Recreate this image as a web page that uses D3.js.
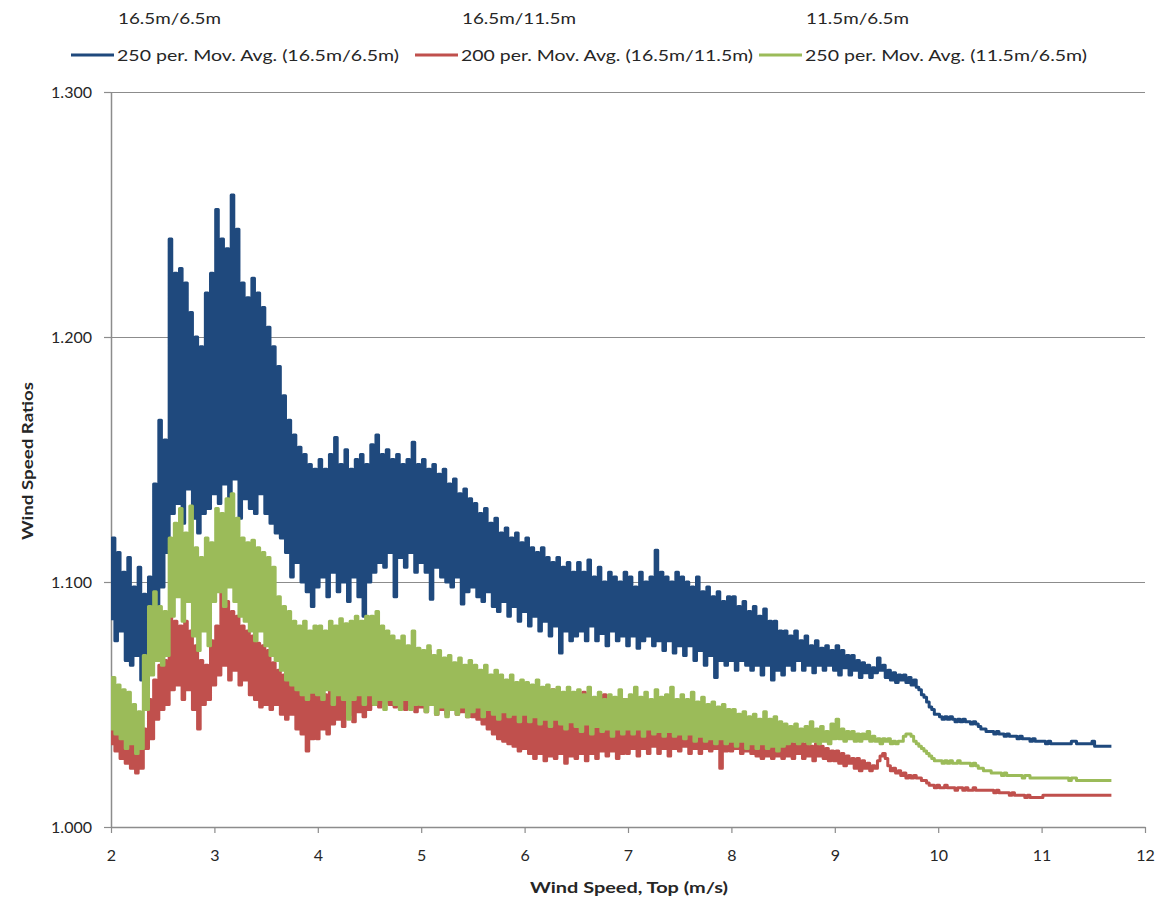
<!DOCTYPE html>
<html>
<head>
<meta charset="utf-8">
<script src="https://cdn.jsdelivr.net/npm/d3@7"></script>
<style>
  body { margin: 0; background: #fff; }
  text { font-family: Lato, "Open Sans", sans-serif; fill: #262626; }
</style>
</head>
<body>
<svg id="chart" width="1168" height="898"></svg>
<script>
// Wind speed grid (m/s): first sample and spacing of the moving averages
var speedStart = 2.0;
var speedStep = 0.025;

// 250 per. Mov. Avg. (16.5m/6.5m) - one row per 0.5 m/s
var ratio165over65 = [
  1.085,1.118,1.076,1.112,1.080,1.104,1.068,1.110,1.066,1.098,1.070,1.106,1.060,1.095,1.056,1.102,1.072,1.140,1.085,1.166,
  1.098,1.158,1.112,1.240,1.128,1.226,1.132,1.228,1.124,1.222,1.138,1.210,1.126,1.200,1.120,1.196,1.128,1.218,1.130,1.226,
  1.136,1.252,1.132,1.240,1.140,1.236,1.128,1.258,1.142,1.244,1.126,1.222,1.134,1.216,1.130,1.224,1.128,1.218,1.136,1.212,
  1.128,1.204,1.124,1.196,1.120,1.188,1.118,1.176,1.112,1.166,1.102,1.160,1.108,1.155,1.100,1.152,1.096,1.148,1.090,1.146,
  1.098,1.150,1.102,1.146,1.094,1.152,1.104,1.159,1.096,1.148,1.100,1.154,1.092,1.146,1.102,1.150,1.094,1.152,1.086,1.148,
  1.100,1.156,1.104,1.160,1.108,1.152,1.106,1.154,1.112,1.150,1.094,1.152,1.110,1.148,1.106,1.150,1.112,1.157,1.104,1.148,
  1.108,1.150,1.104,1.146,1.093,1.148,1.106,1.144,1.102,1.146,1.100,1.140,1.098,1.142,1.102,1.136,1.091,1.138,1.096,1.134,
  1.098,1.132,1.094,1.128,1.092,1.130,1.096,1.124,1.090,1.126,1.088,1.120,1.092,1.122,1.086,1.118,1.090,1.120,1.084,1.116,
  1.088,1.118,1.082,1.114,1.086,1.112,1.080,1.114,1.084,1.110,1.078,1.108,1.082,1.110,1.071,1.106,1.080,1.108,1.076,1.104,
  1.078,1.108,1.080,1.104,1.076,1.109,1.082,1.102,1.076,1.106,1.079,1.100,1.074,1.104,1.080,1.102,1.076,1.100,1.078,1.104,
  1.074,1.102,1.078,1.098,1.073,1.104,1.076,1.100,1.078,1.102,1.074,1.113,1.076,1.104,1.072,1.102,1.076,1.100,1.071,1.104,
  1.074,1.102,1.070,1.100,1.074,1.098,1.068,1.102,1.072,1.096,1.066,1.098,1.070,1.094,1.061,1.096,1.068,1.092,1.066,1.094,
  1.068,1.094,1.064,1.090,1.068,1.092,1.066,1.088,1.064,1.090,1.066,1.086,1.062,1.089,1.066,1.084,1.060,1.084,1.064,1.080,
  1.062,1.080,1.066,1.078,1.064,1.080,1.068,1.076,1.064,1.078,1.066,1.074,1.063,1.076,1.066,1.073,1.064,1.074,1.066,1.072,
  1.064,1.074,1.062,1.072,1.065,1.070,1.062,1.070,1.064,1.068,1.061,1.067,1.063,1.066,1.061,1.065,1.063,1.069,1.064,1.066,
  1.061,1.064,1.060,1.063,1.059,1.062,1.060,1.062,1.059,1.061,1.058,1.060,1.057,1.056,1.054,1.053,1.051,1.049,1.048,1.046,
  1.046,1.045,1.044,1.045,1.044,1.045,1.044,1.043,1.044,1.043,1.044,1.043,1.043,1.042,1.043,1.042,1.041,1.040,1.040,1.039,
  1.039,1.039,1.038,1.039,1.038,1.038,1.037,1.038,1.037,1.037,1.037,1.036,1.037,1.036,1.036,1.036,1.035,1.036,1.035,1.035,
  1.035,1.035,1.034,1.035,1.034,1.034,1.034,1.034,1.034,1.034,1.034,1.034,1.035,1.035,1.034,1.034,1.034,1.034,1.034,1.034,
  1.035,1.033,1.033,1.033,1.033,1.033,1.033,1.033
];

// 200 per. Mov. Avg. (16.5m/11.5m)
var ratio165over115 = [
  1.034,1.046,1.031,1.042,1.028,1.040,1.026,1.036,1.024,1.034,1.022,1.033,1.024,1.040,1.032,1.052,1.036,1.060,1.044,1.066,
  1.048,1.068,1.050,1.087,1.056,1.084,1.058,1.082,1.052,1.084,1.056,1.080,1.048,1.074,1.040,1.068,1.050,1.066,1.052,1.076,
  1.058,1.082,1.062,1.098,1.066,1.092,1.060,1.088,1.064,1.086,1.058,1.082,1.060,1.080,1.054,1.078,1.052,1.075,1.049,1.074,
  1.050,1.072,1.048,1.067,1.050,1.064,1.046,1.062,1.044,1.060,1.046,1.061,1.040,1.058,1.038,1.060,1.031,1.057,1.036,1.056,
  1.036,1.056,1.040,1.054,1.038,1.057,1.042,1.054,1.044,1.056,1.041,1.057,1.046,1.055,1.043,1.058,1.047,1.056,1.045,1.058,
  1.048,1.060,1.050,1.058,1.049,1.061,1.051,1.059,1.050,1.062,1.049,1.060,1.052,1.058,1.048,1.061,1.050,1.058,1.047,1.060,
  1.049,1.062,1.047,1.072,1.050,1.060,1.046,1.068,1.048,1.060,1.046,1.066,1.048,1.059,1.046,1.062,1.047,1.058,1.045,1.060,
  1.045,1.058,1.044,1.056,1.042,1.057,1.040,1.055,1.038,1.056,1.036,1.054,1.035,1.053,1.034,1.054,1.033,1.052,1.031,1.050,
  1.032,1.050,1.030,1.046,1.028,1.052,1.030,1.045,1.027,1.048,1.029,1.056,1.028,1.044,1.030,1.047,1.026,1.054,1.029,1.045,
  1.028,1.046,1.030,1.055,1.027,1.044,1.030,1.050,1.028,1.043,1.031,1.054,1.029,1.042,1.031,1.048,1.028,1.044,1.030,1.052,
  1.030,1.042,1.032,1.050,1.029,1.041,1.032,1.046,1.030,1.040,1.033,1.048,1.030,1.041,1.032,1.044,1.029,1.040,1.032,1.046,
  1.031,1.040,1.033,1.044,1.030,1.039,1.032,1.042,1.030,1.039,1.032,1.041,1.031,1.038,1.032,1.040,1.024,1.038,1.031,1.040,
  1.031,1.038,1.032,1.037,1.030,1.038,1.031,1.036,1.030,1.037,1.029,1.036,1.028,1.037,1.029,1.035,1.028,1.036,1.029,1.034,
  1.028,1.035,1.029,1.036,1.028,1.034,1.030,1.035,1.028,1.034,1.029,1.033,1.027,1.034,1.029,1.033,1.028,1.032,1.027,1.031,
  1.027,1.031,1.026,1.030,1.025,1.029,1.026,1.028,1.024,1.028,1.023,1.027,1.024,1.026,1.023,1.025,1.024,1.027,1.029,1.030,
  1.028,1.025,1.023,1.024,1.022,1.023,1.021,1.022,1.020,1.021,1.020,1.021,1.020,1.020,1.019,1.019,1.018,1.017,1.017,1.016,
  1.017,1.016,1.016,1.017,1.016,1.016,1.016,1.015,1.016,1.016,1.015,1.016,1.015,1.015,1.016,1.015,1.015,1.015,1.015,1.015,
  1.015,1.015,1.014,1.015,1.014,1.014,1.014,1.014,1.013,1.014,1.013,1.013,1.013,1.013,1.012,1.013,1.012,1.012,1.012,1.012,
  1.012,1.013,1.013,1.013,1.013,1.013,1.013,1.013,1.013,1.013,1.013,1.013,1.013,1.013,1.013,1.013,1.013,1.013,1.013,1.013,
  1.013,1.013,1.013,1.013,1.013,1.013,1.013,1.013
];

// 250 per. Mov. Avg. (11.5m/6.5m)
var ratio115over65 = [
  1.040,1.061,1.038,1.058,1.036,1.056,1.032,1.055,1.034,1.050,1.030,1.047,1.032,1.070,1.048,1.090,1.062,1.096,1.068,1.090,
  1.066,1.088,1.070,1.118,1.086,1.124,1.094,1.130,1.084,1.120,1.092,1.131,1.078,1.114,1.072,1.110,1.080,1.118,1.074,1.116,
  1.092,1.130,1.096,1.128,1.090,1.134,1.098,1.136,1.092,1.126,1.086,1.118,1.084,1.116,1.080,1.117,1.076,1.114,1.080,1.112,
  1.074,1.110,1.070,1.106,1.068,1.094,1.064,1.090,1.060,1.088,1.058,1.084,1.056,1.082,1.054,1.084,1.052,1.080,1.055,1.082,
  1.054,1.082,1.052,1.080,1.056,1.084,1.050,1.082,1.054,1.085,1.052,1.083,1.044,1.084,1.052,1.086,1.054,1.084,1.050,1.086,
  1.054,1.086,1.050,1.088,1.052,1.082,1.048,1.080,1.052,1.078,1.050,1.076,1.048,1.078,1.052,1.074,1.048,1.080,1.050,1.073,
  1.050,1.072,1.047,1.074,1.050,1.070,1.046,1.072,1.049,1.069,1.045,1.070,1.048,1.067,1.046,1.069,1.049,1.066,1.045,1.068,
  1.047,1.066,1.049,1.064,1.045,1.066,1.048,1.062,1.046,1.064,1.044,1.062,1.047,1.060,1.045,1.062,1.046,1.059,1.043,1.060,
  1.046,1.059,1.043,1.058,1.045,1.060,1.042,1.057,1.044,1.058,1.041,1.056,1.044,1.057,1.042,1.055,1.040,1.057,1.043,1.055,
  1.041,1.056,1.039,1.054,1.042,1.057,1.038,1.053,1.041,1.055,1.039,1.052,1.040,1.054,1.037,1.053,1.040,1.056,1.038,1.052,
  1.040,1.054,1.038,1.057,1.040,1.053,1.037,1.055,1.040,1.052,1.038,1.056,1.039,1.053,1.037,1.054,1.039,1.057,1.037,1.052,
  1.038,1.054,1.036,1.052,1.038,1.055,1.035,1.051,1.037,1.053,1.035,1.050,1.036,1.051,1.034,1.049,1.036,1.050,1.034,1.048,
  1.035,1.048,1.033,1.046,1.035,1.047,1.032,1.045,1.034,1.046,1.032,1.044,1.034,1.047,1.032,1.044,1.033,1.045,1.031,1.043,
  1.033,1.042,1.034,1.041,1.035,1.042,1.034,1.040,1.035,1.041,1.034,1.043,1.035,1.040,1.034,1.041,1.035,1.039,1.034,1.042,
  1.036,1.044,1.036,1.040,1.035,1.039,1.036,1.039,1.035,1.038,1.035,1.038,1.036,1.039,1.035,1.037,1.035,1.036,1.034,1.036,
  1.035,1.036,1.034,1.035,1.034,1.035,1.035,1.037,1.038,1.038,1.037,1.035,1.034,1.033,1.032,1.031,1.030,1.029,1.028,1.027,
  1.027,1.027,1.026,1.027,1.026,1.027,1.026,1.026,1.027,1.026,1.026,1.026,1.026,1.025,1.026,1.025,1.024,1.024,1.023,1.023,
  1.023,1.022,1.022,1.022,1.022,1.021,1.022,1.021,1.021,1.021,1.021,1.021,1.021,1.020,1.021,1.021,1.020,1.020,1.020,1.020,
  1.020,1.020,1.020,1.020,1.020,1.020,1.020,1.020,1.020,1.020,1.020,1.019,1.020,1.020,1.019,1.019,1.019,1.019,1.019,1.019,
  1.019,1.019,1.019,1.019,1.019,1.019,1.019,1.019
];

var yTicks = [1.0, 1.1, 1.2, 1.3];
var xTicks = [2, 3, 4, 5, 6, 7, 8, 9, 10, 11, 12];
var rawNames = ['16.5m/6.5m', '16.5m/11.5m', '11.5m/6.5m'];
var avgNames = ['250 per. Mov. Avg. (16.5m/6.5m)', '200 per. Mov. Avg. (16.5m/11.5m)', '250 per. Mov. Avg. (11.5m/6.5m)'];

//----- Chart setup -----
var svg = d3.select('#chart');
var plot = { left: 111, right: 1145, top: 92, bottom: 827 };
var gridColor = '#8c8c8c';

var x = d3.scaleLinear().domain([2, 12]).range([plot.left, plot.right]);
var y = d3.scaleLinear().domain([1.0, 1.3]).range([plot.bottom, plot.top]);

// series drawn in Excel order: blue, red, then green on top
var series = [
  { name: avgNames[0], raw: rawNames[0], values: ratio165over65, color: '#1f497d' },
  { name: avgNames[1], raw: rawNames[1], values: ratio165over115, color: '#c0504d' },
  { name: avgNames[2], raw: rawNames[2], values: ratio115over65, color: '#9bbb59' }
];

//----- Grid and axes -----
svg.append('g')
   .attr('transform', 'translate(' + plot.left + ',0)')
   .call(d3.axisLeft(y).tickValues(yTicks.slice(1)).tickSize(-(plot.right - plot.left)).tickFormat(''))
   .call(function(g) {
     g.select('.domain').remove();
     g.selectAll('line').attr('stroke', gridColor).attr('stroke-width', 1.2);
   });

svg.append('g')
   .attr('transform', 'translate(' + plot.left + ',0)')
   .call(d3.axisLeft(y).tickValues(yTicks).tickSize(7).tickSizeOuter(0)
           .tickPadding(12).tickFormat(d3.format('.3f')))
   .call(function(g) {
     g.select('.domain').attr('stroke', gridColor).attr('stroke-width', 1.5);
     g.selectAll('line').attr('stroke', gridColor).attr('stroke-width', 1.2);
     g.selectAll('text').style('font-size', '16px').attr('fill', '#262626');
   });

svg.append('g')
   .attr('transform', 'translate(0,' + plot.bottom + ')')
   .call(d3.axisBottom(x).tickValues(xTicks).tickSize(6).tickSizeOuter(0)
           .tickPadding(17).tickFormat(d3.format('d')))
   .call(function(g) {
     g.select('.domain').attr('stroke', gridColor).attr('stroke-width', 1.5);
     g.selectAll('line').attr('stroke', gridColor).attr('stroke-width', 1.2);
     g.selectAll('text').style('font-size', '16px').attr('fill', '#262626');
   });

//----- Series lines -----
svg.append('clipPath').attr('id', 'plotClip')
   .append('rect')
   .attr('x', plot.left).attr('y', plot.top - 10)
   .attr('width', plot.right - plot.left).attr('height', plot.bottom - plot.top + 10);

// step curve: every sample becomes a vertical stroke, so the dense noise reads as a solid band
var line = d3.line()
  .curve(d3.curveStep)
  .x(function(d, i) { return x(speedStart + i * speedStep); })
  .y(function(d) { return y(d); });

svg.append('g').attr('clip-path', 'url(#plotClip)')
   .selectAll('path.series')
   .data(series)
   .enter().append('path')
   .attr('class', 'series')
   .attr('d', function(d) { return line(d.values); })
   .attr('fill', 'none')
   .attr('stroke', function(d) { return d.color; })
   .attr('stroke-width', 3)
   .attr('stroke-linejoin', 'round');

//----- Legend -----
var legendX = [117, 461, 805];
var rawWidths = [103, 114, 103];
var avgWidths = [282, 292, 282];

var legend = svg.append('g').attr('class', 'legend');

legend.selectAll('text.raw')
      .data(series)
      .enter().append('text')
      .attr('class', 'raw')
      .attr('x', function(d, i) { return legendX[i] + 1; })
      .attr('y', 18)
      .attr('dy', '0.35em')
      .attr('textLength', function(d, i) { return rawWidths[i]; })
      .attr('lengthAdjust', 'spacingAndGlyphs')
      .style('font-size', '16px')
      .text(function(d) { return d.raw; });

legend.selectAll('line.key')
      .data(series)
      .enter().append('line')
      .attr('class', 'key')
      .attr('x1', function(d, i) { return legendX[i] - 46; })
      .attr('x2', function(d, i) { return legendX[i] - 3; })
      .attr('y1', 55).attr('y2', 55)
      .attr('stroke', function(d) { return d.color; })
      .attr('stroke-width', 3);

legend.selectAll('text.avg')
      .data(series)
      .enter().append('text')
      .attr('class', 'avg')
      .attr('x', function(d, i) { return legendX[i]; })
      .attr('y', 55)
      .attr('dy', '0.35em')
      .attr('textLength', function(d, i) { return avgWidths[i]; })
      .attr('lengthAdjust', 'spacingAndGlyphs')
      .style('font-size', '16px')
      .text(function(d) { return d.name; });

//----- Axis titles -----
svg.append('text')
   .attr('x', 629).attr('y', 888)
   .attr('dy', '0.35em')
   .attr('text-anchor', 'middle')
   .attr('textLength', 198)
   .attr('lengthAdjust', 'spacingAndGlyphs')
   .style('font-size', '15px').style('font-weight', 'bold')
   .attr('fill', '#111')
   .text('Wind Speed, Top (m/s)');

svg.append('text')
   .attr('transform', 'translate(28,461) rotate(-90)')
   .attr('dy', '0.35em')
   .attr('text-anchor', 'middle')
   .attr('textLength', 158)
   .attr('lengthAdjust', 'spacingAndGlyphs')
   .style('font-size', '15px').style('font-weight', 'bold')
   .attr('fill', '#111')
   .text('Wind Speed Ratios');
</script>
</body>
</html>
